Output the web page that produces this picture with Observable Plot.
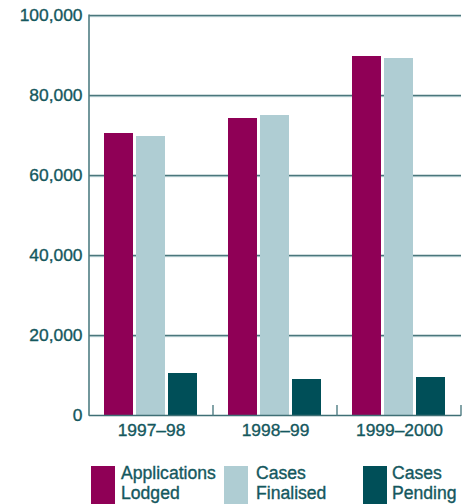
<!DOCTYPE html>
<html><head><meta charset="utf-8">
<script src="https://cdn.jsdelivr.net/npm/d3@7"></script>
<script src="https://cdn.jsdelivr.net/npm/@observablehq/plot@0.6"></script>
<style>
body{margin:0;background:#fff;font-family:"Liberation Sans",Arial,sans-serif;}
#wrap{position:relative;width:472px;height:504px;overflow:hidden;}
.sw{position:absolute;top:466px;width:24px;height:40px;}
.lt{position:absolute;top:463px;font-size:17.6px;line-height:20px;color:#15585e;white-space:nowrap;-webkit-text-stroke:0.35px #15585e;}
#wrap svg text{stroke:#15585e;stroke-width:0.35px;font-size:17.4px !important;font-family:"Liberation Sans",Arial,sans-serif !important;}
</style></head><body><div id="wrap"></div>
<script>
const years = ["1997–98", "1998–99", "1999–2000"];
const series = ["Applications Lodged", "Cases Finalised", "Cases Pending"];
const applicationsLodged = [70500, 74250, 89750];
const casesFinalised = [69750, 75000, 89250];
const casesPending = [10500, 9000, 9500];
const yTicks = [0, 20000, 40000, 60000, 80000, 100000];
const colors = ["#8f0056", "#afcdd3", "#004f58"];
const legendLabels = [["Applications", "Lodged"], ["Cases", "Finalised"], ["Cases", "Pending"]];

const valuesBySeries = [applicationsLodged, casesFinalised, casesPending];
const rows = [];
years.forEach((yr, i) => series.forEach((s, j) => rows.push({year: yr, series: s, value: valuesBySeries[j][i]})));

const textColor = "#15585e";
const gridColor = "#4a777c";

const plot = Plot.plot({
  width: 472,
  height: 450,
  marginLeft: 88,
  marginRight: 10,
  marginTop: 15,
  marginBottom: 35,
  style: {fontFamily: "'Liberation Sans', Arial, sans-serif", fontSize: "17px", color: textColor, background: "white"},
  fx: {domain: years, padding: 0, label: null},
  x: {domain: series, paddingInner: 0.0909, paddingOuter: 0.435, axis: null},
  y: {domain: [0, 100000], label: null},
  color: {domain: series, range: colors},
  marks: [
    Plot.gridY(yTicks.filter(d => d > 0), {stroke: "#b9d1d4", strokeOpacity: 1, strokeWidth: 1, dy: 1.2}),
    Plot.gridY(yTicks.filter(d => d > 0), {stroke: gridColor, strokeOpacity: 1, strokeWidth: 1.3}),
    Plot.barY(rows, {fx: "year", x: "series", y: "value", fill: "series"}),
    Plot.ruleY([0], {stroke: "#3f6f75", strokeWidth: 1.6}),
    Plot.axisY({ticks: yTicks, tickSize: 0, tickPadding: 7, tickFormat: d3.format(","), label: null}),
    Plot.axisFx({anchor: "bottom", tickSize: 0, tickPadding: 8, label: null})
  ]
});

const wrap = document.getElementById("wrap");
wrap.appendChild(plot);

// vertical axis line and band-boundary ticks, placed via the plot's own scales
const fx = plot.scale("fx");
const y = plot.scale("y");
const svg = d3.select(plot.tagName.toLowerCase() === "svg" ? plot : plot.querySelector("svg"));
const x0 = fx.apply(years[0]);
const bw = fx.bandwidth;
const y0 = y.apply(0), yTop = y.apply(100000);
svg.append("line").attr("x1", x0).attr("x2", x0).attr("y1", yTop - 0.5).attr("y2", y0 + 0.8)
  .attr("stroke", "#4f7d83").attr("stroke-width", 1.6);
years.forEach((yr, i) => {
  const xb = fx.apply(yr) + bw;
  svg.append("line").attr("x1", xb).attr("x2", xb).attr("y1", y0 - 10).attr("y2", y0 + 0.8)
    .attr("stroke", "#4f7d83").attr("stroke-width", 1.4);
});

// legend
const swLeft = [91, 224, 363];
const txLeft = [121, 256, 392];
series.forEach((s, i) => {
  const sw = document.createElement("div");
  sw.className = "sw"; sw.style.left = swLeft[i] + "px"; sw.style.background = colors[i];
  wrap.appendChild(sw);
  const t = document.createElement("div");
  t.className = "lt"; t.style.left = txLeft[i] + "px";
  t.innerHTML = legendLabels[i].join("<br>");
  wrap.appendChild(t);
});
</script>
</body></html>
